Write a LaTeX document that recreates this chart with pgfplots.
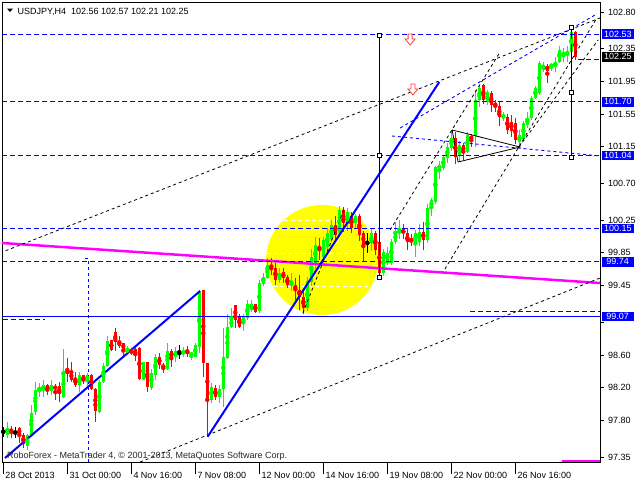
\documentclass[border=0pt]{standalone}
\usepackage{fontspec}
\setmainfont{Liberation Sans}
\usepackage{pgfplots}
\pgfplotsset{compat=1.18}
\usepackage{pgfplotstable}
\definecolor{bull}{RGB}{0,255,0}
\definecolor{bear}{RGB}{255,0,0}
\definecolor{mtblue}{RGB}{0,0,255}
\definecolor{mag}{RGB}{255,0,255}
\definecolor{yel}{RGB}{255,255,0}
\definecolor{arrowred}{RGB}{255,60,60}

\pgfplotstableread{
k o h l c
1 97.62 97.78 97.58 97.71
6 97.49 97.63 97.44 97.62
7 97.61 97.99 97.60 97.89
8 97.90 98.27 97.87 98.17
9 98.16 98.26 98.08 98.21
10 98.18 98.29 98.08 98.23
12 98.16 98.29 98.11 98.23
15 98.08 98.67 98.07 98.41
19 98.23 98.39 98.15 98.35
21 98.29 98.38 98.20 98.35
24 97.90 98.30 97.89 98.27
25 98.27 98.50 98.26 98.46
26 98.46 98.83 98.45 98.77
31 98.65 98.71 98.60 98.68
35 98.30 98.52 98.29 98.51
37 98.19 98.43 98.17 98.38
38 98.36 98.61 98.29 98.58
41 98.43 98.75 98.42 98.65
43 98.57 98.70 98.51 98.65
45 98.61 98.70 98.57 98.65
47 98.60 98.64 98.54 98.62
48 98.58 98.75 98.57 98.72
49 98.70 99.40 98.63 99.37
52 98.05 98.26 98.01 98.21
54 98.08 98.23 98.01 98.19
55 98.18 98.93 97.96 98.57
56 98.56 99.10 98.55 98.94
57 98.94 99.17 98.93 99.05
60 98.99 99.10 98.90 99.06
61 99.05 99.27 99.03 99.22
62 99.15 99.27 99.13 99.22
64 99.14 99.52 99.11 99.48
65 99.47 99.60 99.44 99.56
66 99.54 99.79 99.53 99.70
69 99.52 99.66 99.48 99.61
72 99.46 99.60 99.38 99.48
76 99.17 99.55 99.14 99.50
77 99.50 99.90 99.45 99.80
78 99.72 100.05 99.65 99.95
80 99.80 100.05 99.75 100.01
81 99.92 100.15 99.88 100.09
82 100.02 100.25 99.98 100.19
84 100.09 100.42 100.05 100.38
86 100.20 100.40 100.12 100.35
88 100.22 100.33 100.15 100.30
92 99.97 100.15 99.87 100.09
95 99.60 99.90 99.57 99.86
96 99.73 99.92 99.70 99.85
97 99.73 100.02 99.70 99.98
98 99.98 100.23 99.96 100.11
99 100.09 100.25 100.02 100.13
103 99.98 100.13 99.80 100.09
104 99.99 100.20 99.94 100.11
106 100.01 100.45 99.97 100.40
107 100.40 100.52 100.30 100.50
108 100.47 100.92 100.45 100.90
109 100.87 100.97 100.76 100.93
110 100.89 101.05 100.86 101.02
111 101.01 101.20 100.95 101.15
112 101.13 101.35 101.10 101.26
114 101.05 101.22 100.96 101.17
116 101.09 101.33 101.07 101.29
118 101.28 101.84 101.15 101.72
119 101.72 101.91 101.64 101.87
121 101.70 101.84 101.66 101.82
125 101.51 101.58 101.46 101.54
129 101.21 101.35 101.15 101.29
130 101.25 101.47 101.22 101.44
131 101.42 101.58 101.38 101.50
132 101.50 101.77 101.48 101.75
133 101.75 101.89 101.73 101.87
134 101.81 102.20 101.78 102.18
135 102.09 102.19 102.07 102.15
137 102.12 102.18 102.08 102.16
138 102.13 102.25 102.07 102.19
139 102.19 102.38 102.17 102.34
140 102.25 102.36 102.19 102.31
141 102.29 102.38 102.19 102.31
142 102.31 102.60 102.29 102.56
}\bullcandles

\pgfplotstableread{
k o h l c
2 97.69 97.73 97.58 97.66
4 97.71 97.72 97.52 97.62
5 97.62 97.65 97.46 97.51
11 98.23 98.24 98.11 98.16
13 98.22 98.24 98.05 98.18
14 98.22 98.27 98.02 98.12
16 98.42 98.56 98.27 98.37
17 98.39 98.51 98.27 98.30
18 98.32 98.39 98.21 98.23
20 98.35 98.36 98.24 98.28
22 98.36 98.37 98.17 98.18
23 98.18 98.20 97.78 97.91
27 98.78 98.78 98.65 98.66
28 98.88 98.93 98.65 98.76
29 98.77 98.83 98.68 98.71
30 98.75 98.75 98.56 98.66
32 98.67 98.68 98.60 98.63
33 98.67 98.70 98.52 98.59
34 98.68 98.70 98.29 98.30
36 98.51 98.52 98.15 98.21
39 98.58 98.62 98.43 98.48
40 98.48 98.50 98.38 98.44
42 98.65 98.67 98.45 98.56
46 98.66 98.71 98.58 98.61
50 99.40 99.40 98.33 98.50
51 98.50 98.50 97.60 98.05
53 98.20 98.23 98.05 98.08
58 99.21 99.21 98.93 99.03
59 99.06 99.10 98.93 98.94
63 99.23 99.23 99.11 99.13
67 99.67 99.79 99.58 99.65
68 99.66 99.73 99.46 99.52
70 99.62 99.66 99.48 99.54
71 99.56 99.58 99.42 99.46
73 99.46 99.54 99.27 99.39
74 99.40 99.58 99.15 99.31
75 99.31 99.40 99.10 99.17
79 99.93 100.03 99.76 99.89
83 100.19 100.30 100.00 100.07
85 100.38 100.41 100.10 100.22
87 100.30 100.35 100.10 100.16
89 100.30 100.33 100.00 100.07
90 100.09 100.12 99.75 99.95
93 100.09 100.12 99.83 99.88
94 99.98 100.02 99.57 99.60
100 100.14 100.20 100.02 100.09
101 100.09 100.15 99.89 99.98
102 100.01 100.08 99.94 99.99
105 100.11 100.23 99.89 100.01
113 101.26 101.33 100.94 101.02
115 101.17 101.19 100.99 101.08
117 101.28 101.31 101.15 101.24
120 101.91 101.92 101.67 101.72
122 101.81 101.83 101.58 101.66
123 101.69 101.72 101.58 101.64
124 101.65 101.70 101.40 101.51
126 101.51 101.55 101.31 101.36
127 101.45 101.54 101.27 101.34
128 101.44 101.50 101.19 101.23
136 102.14 102.16 101.93 102.08
143 102.56 102.57 102.21 102.25
}\bearcandles

\pgfplotstableread{
k o h l c
0 97.66 97.72 97.60 97.66
3 97.65 97.72 97.58 97.65
44 98.62 98.72 98.55 98.62
91 99.97 100.10 99.85 99.97
}\dojicandles

\begin{document}
\fontsize{9}{11}\selectfont
\begin{tikzpicture}[x=1pt,y=1pt]
\useasboundingbox (0,0) rectangle (640,-480);
\begin{axis}[
  at={(2pt,-2pt)}, anchor=north west,
  scale only axis, width=598pt, height=460pt,
  xmin=-0.325, xmax=149.175, ymin=97.289, ymax=102.922,
  axis line style={black, line width=0.8pt},
  ytick pos=right, yticklabel pos=right,
  tick align=outside, major tick length=4pt,
  ytick={97.35,97.80,98.20,98.60,99.00,99.45,99.85,100.25,100.70,101.15,101.55,101.95,102.35,102.80},
  yticklabels={97.35,97.80,98.20,98.60,{},99.45,99.85,100.25,100.70,101.15,101.55,101.95,102.35,102.80},
  yticklabel style={anchor=west, xshift=1pt, text=black},
  ytick style={black, line width=0.8pt},
  xtick pos=bottom,
  xtick={0,16,32,48,64,80,96,112,128},
  xticklabels={28 Oct 2013,31 Oct 00:00,4 Nov 16:00,7 Nov 08:00,12 Nov 00:00,14 Nov 16:00,19 Nov 08:00,22 Nov 00:00,26 Nov 16:00},
  xticklabel style={anchor=west, yshift=-9pt, xshift=-1pt, text=black},
  xtick style={draw=none},
]
% background ellipse
\fill[yel] (axis cs:79.7,99.763) ellipse [x radius=56pt, y radius=55pt];
\addplot[white, line width=0.8pt, dash pattern=on 4pt off 3pt, forget plot] coordinates {(70.2,100.253) (89.2,100.253)};
\addplot[white, line width=0.8pt, dash pattern=on 4pt off 3pt, forget plot] coordinates {(65.9,99.849) (93.5,99.849)};
\addplot[white, line width=0.8pt, dash pattern=on 4pt off 3pt, forget plot] coordinates {(67.4,99.445) (91.9,99.445)};

% candles: wicks
\addplot[color=bull, only marks, mark=none, forget plot,
  error bars/.cd, y dir=both, y explicit, error mark=none,
  error bar style={line width=1pt, color=bull, solid}]
  table[x=k, y expr={(\thisrow{h}+\thisrow{l})/2}, y error expr={(\thisrow{h}-\thisrow{l})/2}] {\bullcandles};
\addplot[color=bear, only marks, mark=none, forget plot,
  error bars/.cd, y dir=both, y explicit, error mark=none,
  error bar style={line width=1pt, color=bear, solid}]
  table[x=k, y expr={(\thisrow{h}+\thisrow{l})/2}, y error expr={(\thisrow{h}-\thisrow{l})/2}] {\bearcandles};
\addplot[color=black, only marks, mark=none, forget plot,
  error bars/.cd, y dir=both, y explicit, error mark=none,
  error bar style={line width=1pt, color=black, solid}]
  table[x=k, y expr={(\thisrow{h}+\thisrow{l})/2}, y error expr={(\thisrow{h}-\thisrow{l})/2}] {\dojicandles};
% candles: bodies
\addplot[color=bull, only marks, mark=none, forget plot,
  error bars/.cd, y dir=both, y explicit, error mark=none,
  error bar style={line width=3pt, color=bull, solid}]
  table[x=k, y expr={(\thisrow{o}+\thisrow{c})/2}, y error expr={max(abs(\thisrow{o}-\thisrow{c})/2,0.007)}] {\bullcandles};
\addplot[color=bear, only marks, mark=none, forget plot,
  error bars/.cd, y dir=both, y explicit, error mark=none,
  error bar style={line width=3pt, color=bear, solid}]
  table[x=k, y expr={(\thisrow{o}+\thisrow{c})/2}, y error expr={max(abs(\thisrow{o}-\thisrow{c})/2,0.007)}] {\bearcandles};
\addplot[color=black, only marks, mark=none, forget plot,
  error bars/.cd, y dir=both, y explicit, error mark=none,
  error bar style={line width=3pt, color=black, solid}]
  table[x=k, y=c, y error expr={0.006}] {\dojicandles};

% magenta line
\addplot[mag, line width=2.5pt, forget plot] coordinates {(-0.325,99.971) (149.175,99.481)};
\addplot[mag, line width=1.5pt, forget plot] coordinates {(139.7,97.302) (149.175,97.302)};

% horizontal levels
\addplot[mtblue, line width=1pt, dash pattern=on 5pt off 3pt, forget plot] coordinates {(-0.325,102.53) (149.175,102.53)};
\addplot[mtblue, line width=1pt, dash pattern=on 5pt off 3pt, forget plot] coordinates {(-0.325,101.70) (149.175,101.70)};
\addplot[mtblue, line width=1pt, dash pattern=on 5pt off 3pt, forget plot] coordinates {(-0.325,101.04) (149.175,101.04)};
\addplot[mtblue, line width=1pt, dash pattern=on 5pt off 3pt, forget plot] coordinates {(-0.325,100.15) (149.175,100.15)};
\addplot[mtblue, line width=1pt, dash pattern=on 5pt off 3pt, forget plot] coordinates {(-0.325,99.74) (149.175,99.74)};
\addplot[mtblue, line width=1pt, forget plot] coordinates {(-0.325,99.07) (149.175,99.07)};
\addplot[mtblue, line width=1pt, dash pattern=on 5pt off 3pt, forget plot] coordinates {(116.7,99.126) (149.175,99.126)};
\addplot[mtblue, line width=1pt, dash pattern=on 5pt off 3pt, forget plot] coordinates {(-0.1,99.04) (10.4,99.04)};
\addplot[mtblue, line width=1pt, dash pattern=on 5pt off 3pt, forget plot] coordinates {(143.7,102.22) (149.175,102.22)};
\addplot[mtblue, line width=1pt, dash pattern=on 3pt off 3pt, forget plot] coordinates {(20.4,99.775) (21.3,99.775) (21.3,97.289)};

% blue dashed channel lines
\addplot[mtblue, line width=0.9pt, dash pattern=on 3pt off 3pt, forget plot] coordinates {(99.2,101.379) (148.4,102.776)};
\addplot[mtblue, line width=0.9pt, dash pattern=on 3pt off 3pt, forget plot] coordinates {(97.2,101.281) (149.175,101.037)};

% black dashed lines
\addplot[black, line width=0.8pt, dash pattern=on 3pt off 3pt, forget plot] coordinates {(-0.825,99.849) (149.2,102.727)};
\addplot[black, line width=0.8pt, dash pattern=on 3pt off 3pt, forget plot] coordinates {(34.2,97.289) (149.175,99.542)};
\addplot[black, line width=0.8pt, dash pattern=on 3pt off 3pt, forget plot] coordinates {(96.7,100.130) (124.2,102.310)};
\addplot[black, line width=0.8pt, dash pattern=on 3pt off 3pt, forget plot] coordinates {(110.4,99.652) (148.4,102.727)};
\addplot[black, line width=0.8pt, dash pattern=on 3pt off 3pt, forget plot] coordinates {(128.9,101.146) (148.7,102.457)};
\addplot[black, line width=0.8pt, dash pattern=on 3pt off 3pt, forget plot] coordinates {(74.9,99.114) (85.4,100.412)};

% triangle
\addplot[black, line width=0.8pt, forget plot] coordinates {(112.2,101.355) (129.2,101.146) (113.7,100.963) (112.2,101.355)};

% thick blue trend lines
\addplot[mtblue, line width=2pt, forget plot] coordinates {(0.425,97.338) (49.2,99.383)};
\addplot[mtblue, line width=2pt, forget plot] coordinates {(51.1,97.60) (109,101.943)};

% vertical measuring lines with handles
\addplot[black, line width=0.8pt, mark=square*, mark size=2pt, mark options={fill=white, solid}, forget plot] coordinates {(94,102.518) (94,101.049) (94,99.555)};
\addplot[black, line width=0.8pt, mark=square*, mark size=2pt, mark options={fill=white, solid}, forget plot] coordinates {(142,102.616) (142,101.820) (142,101.024)};

% down arrows
\draw[arrowred, line width=0.8pt, fill=white] (axis cs:101.7,102.457) ++(-2pt,6pt) -- ++(4pt,0pt) -- ++(0pt,-5pt) -- ++(3pt,0pt) -- ++(-5pt,-6pt) -- ++(-5pt,6pt) -- ++(3pt,0pt) -- cycle;
\draw[arrowred, line width=0.8pt, fill=white] (axis cs:102.4,101.845) ++(-2pt,6pt) -- ++(4pt,0pt) -- ++(0pt,-5pt) -- ++(3pt,0pt) -- ++(-5pt,-6pt) -- ++(-5pt,6pt) -- ++(3pt,0pt) -- cycle;

\coordinate (b1) at (axis cs:149.175,102.53);
\coordinate (b2) at (axis cs:149.175,101.70);
\coordinate (b3) at (axis cs:149.175,101.04);
\coordinate (b4) at (axis cs:149.175,100.15);
\coordinate (b5) at (axis cs:149.175,99.74);
\coordinate (b6) at (axis cs:149.175,99.07);
\coordinate (bc) at (axis cs:149.175,102.25);
\end{axis}

% date tick marks
\foreach \j in {0,...,8} \draw[line width=0.8pt] ({3.3+64*\j},-462) -- ++(0,-12);

% price boxes
\foreach \c/\t in {b1/102.53,b2/101.70,b3/101.04,b4/100.15,b5/99.74,b6/99.07}
  \node[fill=mtblue, text=white, anchor=west, inner xsep=2.5pt, inner ysep=0pt, minimum height=9.5pt, minimum width=32pt, xshift=1.5pt] at (\c) {\t};
\node[fill=black, text=white, anchor=west, inner xsep=2.5pt, inner ysep=0pt, minimum height=9.5pt, minimum width=32pt, xshift=1.5pt] at (bc) {102.25};

% header
\fill (7,-8.5) -- (13,-8.5) -- (10,-12) -- cycle;
\node[anchor=base west, inner sep=0pt] at (17.5,-14) {USDJPY,H4\ \ 102.56 102.57 102.21 102.25};
% copyright
\node[anchor=base west, inner sep=0pt, text=black!85] at (7,-458) {RoboForex - MetaTrader 4, © 2001-2013, MetaQuotes Software Corp.};
\end{tikzpicture}
\end{document}
